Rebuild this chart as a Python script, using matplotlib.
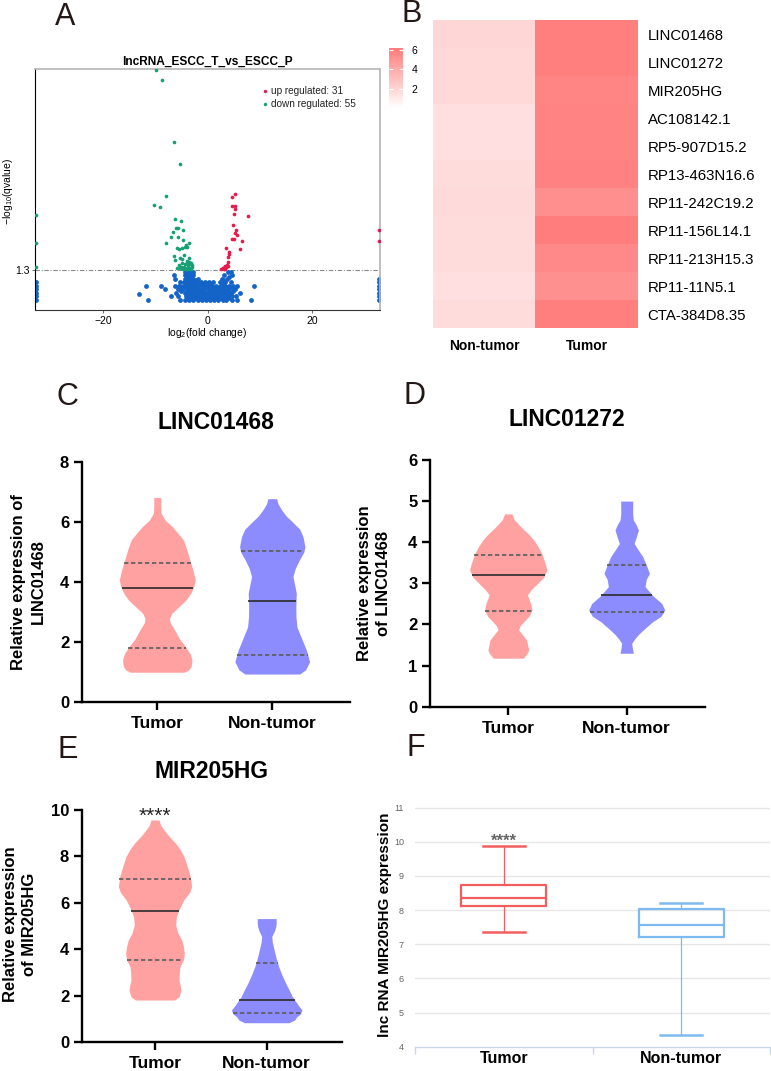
import numpy as np
import matplotlib
matplotlib.use('Agg')
import matplotlib.pyplot as plt
from matplotlib.colors import LinearSegmentedColormap, Normalize
from matplotlib.cm import ScalarMappable

plt.rcParams['font.family'] = ['Liberation Sans', 'DejaVu Sans']
plt.rcParams['mathtext.fontset'] = 'custom'
plt.rcParams['mathtext.rm'] = 'Liberation Sans'
plt.rcParams['mathtext.it'] = 'Liberation Sans:italic'

# ---------------- DATA ----------------
# Panel A: volcano plot
volcano_title = "lncRNA_ESCC_T_vs_ESCC_P"
up_x = [5.33, 4.63, 4.63, 5.33, 5.27, 5.0, 7.75, 4.83, 5.52, 5.27, 5.71, 4.63, 5.0, 6.53, 3.62, 6.19,
        4.06, 4.0, 3.87, 3.3, 3.56, 3.05, 2.6, 3.87, 32.9, 32.9, 3.4, 2.9, 3.7, 4.2, 3.2]
up_y = [4.58, 4.48, 4.09, 4.07, 3.93, 3.74, 3.64, 3.25, 3.02, 2.92, 2.82, 2.64, 2.63, 2.56, 2.25, 2.22,
        1.99, 1.85, 1.66, 1.47, 1.42, 1.40, 1.36, 1.47, 3.03, 2.57, 1.34, 1.38, 1.52, 2.10, 1.33]
down_x = [-9.9, -8.7, -6.4, -5.2, -7.9, -10.3, -9.0, -6.2, -5.1, -5.6, -6.0, -4.6, -6.6, -6.9, -7.9, -3.5,
          -4.1, -4.4, -4.8, -4.0, -5.8, -5.5, -6.4, -5.3, -4.8, -6.2, -4.0, -3.6, -3.3, -3.9, -3.5, -3.2,
          -5.5, -5.0, -4.5, -5.3, -3.8, -3.4, -4.2, -32.9, -32.9, -32.9,
          -3.0, -3.7, -4.6, -5.8, -4.3, -3.1, -3.6, -4.5, -4.7, -5.7, -3.9, -2.9, -4.9]
down_y = [9.95, 9.53, 6.86, 5.88, 4.52, 4.13, 4.02, 3.51, 3.41, 3.12, 3.10, 3.03, 2.95, 2.72, 2.48, 2.48,
          2.38, 2.31, 2.24, 2.28, 2.25, 2.20, 1.91, 1.83, 1.76, 1.73, 1.70, 1.65, 1.62, 1.58, 1.56, 1.60,
          1.52, 1.43, 1.44, 1.40, 1.45, 1.40, 1.36, 3.68, 2.47, 1.44,
          1.50, 1.33, 1.34, 1.38, 1.55, 1.35, 1.82, 1.95, 2.60, 2.75, 1.40, 1.42, 1.60]
# non-significant lncRNAs: (y level, list of x)
ns_rows = [
    (0.02, [-3.5, -2.7, -1.9, -1.1, -0.3, 0.5, 1.3, 2.1, 2.9, 3.6, -5.2, -4.4, 4.6, 5.6, -11.3, 8.4, -32.9, 32.9]),
    (0.10, [-3.9, -3.1, -2.3, -1.5, -0.7, 0.1, 0.9, 1.7, 2.5, 3.3, 4.1]),
    (0.17, [-4.2, -3.4, -2.6, -1.8, -1.0, -0.2, 0.6, 1.4, 2.2, 3.0, 3.8, 4.6, -5.7, 5.5, -7.0, -32.9, 32.9]),
    (0.25, [-3.8, -3.0, -2.2, -1.4, -0.6, 0.2, 1.0, 1.8, 2.6, 3.4, 4.2, -13.2]),
    (0.32, [-4.4, -3.6, -2.8, -2.0, -1.2, -0.4, 0.4, 1.2, 2.0, 2.8, 3.6, 4.4, -6.0, 6.3, -32.9, 32.9]),
    (0.40, [-4.0, -3.2, -2.4, -1.6, -0.8, 0.0, 0.8, 1.6, 2.4, 3.2, 4.0, -5.0, 4.9]),
    (0.47, [-4.6, -3.8, -3.0, -2.2, -1.4, -0.6, 0.2, 1.0, 1.8, 2.6, 3.4, 4.2, -8.1, -5.6, 5.2, -32.9, 32.9]),
    (0.55, [-4.2, -3.4, -2.6, -1.8, -1.0, -0.2, 0.6, 1.4, 2.2, 3.0, 3.8, -5.2, 4.6]),
    (0.62, [-6.3, -5.5, -4.7, -3.9, -3.1, -2.3, -1.5, -0.7, 0.1, 0.9, 1.7, 2.5, 3.3, 4.1, 4.9, 5.7,
            -8.9, -11.8, 8.8, -32.9, 32.9]),
    (0.70, [-4.1, -3.3, -2.5, -1.7, -0.9, -0.1, 0.7, 2.8]),
    (0.77, [-4.5, -3.7, -2.9, -2.1, -1.3, -0.5, 0.3, 1.1, 2.4, 3.3, 4.4, -5.3, -32.9, 32.9]),
    (0.85, [-4.0, -3.2, -2.4, 3.0]),
    (0.92, [-4.3, -3.5, -2.7, -1.9, 2.8, 3.8, -6.2, 32.9]),
    (1.00, [-3.9, -3.1, 4.1]),
    (1.07, [-4.4, -3.6, -2.8, 3.2, 4.7, -6.5]),
    (1.15, [-4.0, -3.2]),
    (1.22, [-4.3, -3.5, -2.7, 3.9, 4.5]),
]
q_threshold = 1.3

# Panel B: heatmap
heat_genes = ["LINC01468", "LINC01272", "MIR205HG", "AC108142.1", "RP5-907D15.2", "RP13-463N16.6",
              "RP11-242C19.2", "RP11-156L14.1", "RP11-213H15.3", "RP11-11N5.1", "CTA-384D8.35"]
heat_cols = ["Non-tumor", "Tumor"]
heat_nontumor = [1.9, 1.8, 1.8, 1.5, 1.5, 1.6, 1.7, 1.6, 1.6, 1.5, 1.6]
heat_tumor = [6.0, 6.0, 5.7, 5.8, 5.8, 5.9, 5.3, 6.1, 5.5, 5.2, 6.0]

groups = ["Tumor", "Non-tumor"]

# Panel C: LINC01468 violin outlines (value, half width) and quartiles
c_t_y = [1.00, 1.08, 1.20, 1.41, 1.62, 1.85, 2.10, 2.41, 2.65, 2.79, 2.95, 3.15, 3.40, 3.63, 3.85, 4.07,
         4.40, 4.84, 5.10, 5.40, 5.62, 5.84, 6.05, 6.29, 6.55, 6.81]
c_t_w = [0.235, 0.275, 0.295, 0.302, 0.285, 0.245, 0.195, 0.150, 0.112, 0.107, 0.125, 0.180, 0.250, 0.292,
         0.318, 0.330, 0.310, 0.275, 0.255, 0.226, 0.180, 0.130, 0.070, 0.033, 0.030, 0.030]
c_n_y = [0.94, 1.08, 1.35, 1.74, 2.18, 2.50, 2.85, 3.20, 3.63, 3.90, 4.18, 4.45, 4.73, 5.00, 5.18, 5.51,
         5.75, 5.95, 6.20, 6.40, 6.60, 6.77]
c_n_w = [0.238, 0.290, 0.325, 0.296, 0.249, 0.215, 0.206, 0.205, 0.209, 0.195, 0.180, 0.200, 0.235, 0.275,
         0.284, 0.267, 0.240, 0.188, 0.120, 0.081, 0.050, 0.038]
c_quart = {"Tumor": (1.80, 3.79, 4.62), "Non-tumor": (1.56, 3.38, 5.02)}

# Panel D: LINC01272
d_t_y = [1.18, 1.30, 1.38, 1.62, 1.75, 1.87, 1.97, 2.07, 2.20, 2.35, 2.50, 2.72, 2.85, 3.00, 3.15, 3.33,
         3.50, 3.73, 3.90, 4.06, 4.20, 4.38, 4.55, 4.69]
d_t_w = [0.127, 0.160, 0.172, 0.155, 0.120, 0.087, 0.100, 0.132, 0.175, 0.200, 0.190, 0.161, 0.195, 0.248,
         0.300, 0.327, 0.310, 0.282, 0.250, 0.214, 0.170, 0.104, 0.050, 0.031]
d_n_y = [1.30, 1.42, 1.54, 1.66, 1.78, 1.92, 2.07, 2.20, 2.35, 2.51, 2.70, 2.92, 3.10, 3.24, 3.45, 3.65,
         3.80, 3.97, 4.12, 4.30, 4.45, 4.54, 4.70, 5.00]
d_n_w = [0.056, 0.048, 0.042, 0.070, 0.107, 0.160, 0.220, 0.290, 0.321, 0.296, 0.220, 0.155, 0.165, 0.192,
         0.165, 0.135, 0.100, 0.062, 0.080, 0.099, 0.075, 0.056, 0.050, 0.051]
d_quart = {"Tumor": (2.33, 3.20, 3.69), "Non-tumor": (2.30, 2.71, 3.45)}

# Panel E: MIR205HG
e_t_y = [1.81, 1.95, 2.24, 2.45, 2.67, 3.00, 3.25, 3.55, 3.82, 4.10, 4.40, 4.70, 5.04, 5.40, 5.75, 6.12,
         6.45, 6.70, 7.13, 7.55, 7.99, 8.30, 8.56, 8.90, 9.14, 9.35, 9.57]
e_t_w = [0.176, 0.215, 0.233, 0.225, 0.215, 0.218, 0.224, 0.255, 0.263, 0.255, 0.239, 0.205, 0.185, 0.191,
         0.220, 0.257, 0.310, 0.328, 0.316, 0.290, 0.260, 0.225, 0.185, 0.120, 0.081, 0.050, 0.036]
e_n_y = [0.83, 0.95, 1.09, 1.20, 1.38, 1.60, 1.95, 2.25, 2.53, 2.90, 3.25, 3.60, 3.97, 4.30, 4.55, 4.80,
         4.97, 5.15, 5.32]
e_n_w = [0.200, 0.250, 0.269, 0.300, 0.316, 0.280, 0.230, 0.200, 0.170, 0.135, 0.107, 0.085, 0.066, 0.050,
         0.045, 0.070, 0.081, 0.085, 0.084]
e_quart = {"Tumor": (3.53, 5.65, 7.04), "Non-tumor": (1.25, 1.80, 3.41)}

# Panel F: boxplot statistics
f_stats = {
    "Tumor": dict(whislo=7.37, q1=8.11, med=8.37, q3=8.74, whishi=9.88),
    "Non-tumor": dict(whislo=4.35, q1=7.21, med=7.57, q3=8.03, whishi=8.20),
}

# ---------------- FIGURE ----------------
W, H = 771, 1071
fig = plt.figure(figsize=(W / 100, H / 100), dpi=100)


def pax(x0, y0, x1, y1):
    return fig.add_axes([x0 / W, 1 - y1 / H, (x1 - x0) / W, (y1 - y0) / H])


def ftext(x, y, s, **kw):
    kw.setdefault('ha', 'center')
    kw.setdefault('va', 'center')
    return fig.text(x / W, 1 - y / H, s, **kw)


letter_kw = dict(fontsize=22, color='#231815')
ftext(65, 17, 'A', **letter_kw)
ftext(412, 14, 'B', **letter_kw)
ftext(67.5, 397, 'C', **letter_kw)
ftext(415, 396, 'D', **letter_kw)
ftext(68, 750, 'E', **letter_kw)
ftext(415.5, 748, 'F', **letter_kw)

# ---- Panel A ----
RED, GREEN, BLUE = '#E8194B', '#17A073', '#1464C8'
axA = pax(35, 69, 380, 310)
axA.set_xlim(-33, 33)
axA.set_ylim(-0.43, 10.0)
ns_x = [x for y, xs in ns_rows for x in xs]
ns_y = [y for y, xs in ns_rows for x in xs]
axA.scatter(ns_x, ns_y, s=12, color=BLUE, lw=0, zorder=2)
axA.scatter(down_x, down_y, s=7, color=GREEN, lw=0, zorder=3)
axA.scatter(up_x, up_y, s=7, color=RED, lw=0, zorder=3)
axA.axhline(q_threshold, color='#8a8a8a', lw=0.8, ls=(0, (4, 1.5, 1, 1.5)), zorder=1)
axA.set_xticks([-20, 0, 20])
axA.set_xticklabels(['\u221220', '0', '20'])
axA.set_yticks([q_threshold])
axA.set_yticklabels(['1.3'])
axA.tick_params(labelsize=7.5, length=2.5, width=0.6, pad=1.5, color='#555555')
for s in ['top', 'right']:
    axA.spines[s].set_color('#b5b5b5')
    axA.spines[s].set_linewidth(1.2)
axA.spines['left'].set_linewidth(0.8)
axA.spines['bottom'].set_linewidth(0.8)
axA.spines['bottom'].set_color('#333333')
ftext(207.3, 61.5, volcano_title, fontsize=8.6, fontweight='bold')
ftext(207, 333, 'log$_2$(fold change)', fontsize=7.5)
ftext(8.5, 191, '\u2212log$_{10}$(qvalue)', fontsize=7.5, rotation=90)
axA.scatter([0.667], [0.907], s=6, color=RED, lw=0, transform=axA.transAxes, clip_on=False)
axA.scatter([0.667], [0.855], s=6, color=GREEN, lw=0, transform=axA.transAxes, clip_on=False)
axA.text(0.685, 0.907, f'up regulated: {len(up_x)}', transform=axA.transAxes, fontsize=7.2,
         va='center', ha='left', color='#222222')
axA.text(0.685, 0.855, f'down regulated: {len(down_x)}', transform=axA.transAxes, fontsize=7.2,
         va='center', ha='left', color='#222222')

# ---- Panel B ----
cmap = LinearSegmentedColormap.from_list('w2r', ['#FFFFFF', '#FF7B7B'])
norm = Normalize(vmin=0, vmax=6.2)
axB = pax(433, 20, 638, 328)
heat = np.array([heat_nontumor, heat_tumor]).T
axB.imshow(heat, cmap=cmap, norm=norm, aspect='auto', interpolation='nearest')
axB.set_xticks([0, 1])
axB.set_xticklabels(heat_cols, fontweight='bold', fontsize=10)
axB.yaxis.tick_right()
axB.set_yticks(range(len(heat_genes)))
axB.set_yticklabels(heat_genes, fontsize=10.8)
axB.tick_params(axis='x', length=0, pad=8)
axB.tick_params(axis='y', length=0, pad=7)
for s in axB.spines.values():
    s.set_visible(False)
cax = pax(389, 48, 403, 108)
cb = fig.colorbar(ScalarMappable(norm=norm, cmap=cmap), cax=cax)
cb.outline.set_visible(False)
cb.set_ticks([2, 4, 6])
cax.tick_params(labelsize=7.5, direction='in', color='white', length=3, width=0.8, pad=6,
                left=True, right=True)

# ---- Violin panels ----
PINK, PURPLE = '#FFA1A1', '#8C8CFF'


def draw_violin(ax, pos, ys, ws, color, quart):
    ys = np.asarray(ys)
    ws = np.asarray(ws)
    ax.fill_betweenx(ys, pos - ws, pos + ws, color=color, lw=0, zorder=2)
    q1, med, q3 = quart
    for q, ls, col in [(q1, (0, (2.6, 1.6)), '#5c5c5c'), (q3, (0, (2.6, 1.6)), '#5c5c5c'),
                       (med, '-', '#2b2b2b')]:
        w = np.interp(q, ys, ws)
        ax.plot([pos - w, pos + w], [q, q], color=col, lw=1.2, ls=ls, zorder=3,
                solid_capstyle='butt')


def gp_style(ax, xlim, ylim, yticks):
    ax.set_xlim(*xlim)
    ax.set_ylim(*ylim)
    for s in ['top', 'right']:
        ax.spines[s].set_visible(False)
    for s in ['left', 'bottom']:
        ax.spines[s].set_linewidth(1.7)
    ax.set_yticks(yticks)
    ax.set_xticks([1, 2])
    ax.set_xticklabels(groups)
    ax.tick_params(axis='y', width=1.7, length=6, labelsize=12, pad=3)
    ax.tick_params(axis='x', width=1.7, length=6, labelsize=12.5, pad=4)
    for lab in ax.get_xticklabels() + ax.get_yticklabels():
        lab.set_fontweight('bold')


# C
axC = pax(81.7, 461.7, 350, 702.3)
draw_violin(axC, 1, c_t_y, c_t_w, PINK, c_quart["Tumor"])
draw_violin(axC, 2, c_n_y, c_n_w, PURPLE, c_quart["Non-tumor"])
gp_style(axC, (0.343, 2.676), (0, 8), [0, 2, 4, 6, 8])
ftext(215.5, 423, 'LINC01468', fontsize=16.5, fontweight='bold')
ftext(28.5, 582, 'Relative expression of\nLINC01468', fontsize=12, fontweight='bold',
      rotation=90, linespacing=1.35, multialignment='center')

# D
axD = pax(430, 460, 705, 706.7)
draw_violin(axD, 1, d_t_y, d_t_w, PINK, d_quart["Tumor"])
draw_violin(axD, 2, d_n_y, d_n_w, PURPLE, d_quart["Non-tumor"])
gp_style(axD, (0.339, 2.661), (0, 6), [0, 1, 2, 3, 4, 5, 6])
ftext(567, 420, 'LINC01272', fontsize=16.5, fontweight='bold')
ftext(374, 583, 'Relative expression\nof LINC01468', fontsize=12, fontweight='bold',
      rotation=90, linespacing=1.35, multialignment='center')

# E
axE = pax(81.7, 810, 341.7, 1042)
draw_violin(axE, 1, e_t_y, e_t_w, PINK, e_quart["Tumor"])
draw_violin(axE, 2, e_n_y, e_n_w, PURPLE, e_quart["Non-tumor"])
gp_style(axE, (0.344, 2.671), (0, 10), [0, 2, 4, 6, 8, 10])
axE.text(1, 9.72, '****', ha='center', va='center', fontsize=15, color='#222222')
ftext(211, 772, 'MIR205HG', fontsize=16.5, fontweight='bold')
ftext(20, 924, 'Relative expression\nof MIR205HG', fontsize=12, fontweight='bold',
      rotation=90, linespacing=1.35, multialignment='center')

# ---- Panel F ----
axF = pax(415, 807.2, 770, 1046.7)
axF.set_xlim(-0.5, 1.5)
axF.set_ylim(4, 11.015)
for yv in range(5, 12):
    axF.axhline(yv, color='#e6e6e6', lw=1, zorder=0)
fcolors = {"Tumor": '#F25E5E', "Non-tumor": '#7EBAEF'}
for i, g in enumerate(groups):
    st = dict(f_stats[g])
    st['label'] = g
    c = fcolors[g]
    axF.bxp([st], positions=[i], widths=0.48, capwidths=0.236, showfliers=False,
            boxprops=dict(color=c, lw=1.6), medianprops=dict(color=c, lw=1.6),
            whiskerprops=dict(color=c, lw=0.9), capprops=dict(color=c, lw=1.8),
            manage_ticks=False)
axF.text(0, 10.02, '****', ha='center', va='center', fontsize=12, fontweight='bold', color='#666666')
for s in ['top', 'right', 'left']:
    axF.spines[s].set_visible(False)
axF.spines['bottom'].set_color('#ccd6eb')
axF.spines['bottom'].set_linewidth(1)
axF.set_yticks(range(4, 12))
axF.tick_params(axis='y', length=0, labelsize=6.5, labelcolor='#666666', pad=8)
axF.set_xticks([-0.5, 0.5, 1.5])
axF.set_xticklabels([])
axF.tick_params(axis='x', which='major', length=5, color='#ccd6eb', width=1)
axF.set_xticks([0, 1], minor=True)
axF.set_xticklabels(groups, minor=True, fontsize=11.5, fontweight='bold')
axF.tick_params(axis='x', which='minor', length=0, pad=3)
ftext(385, 925, 'lnc RNA MIR205HG expression', fontsize=11, fontweight='bold', rotation=90)

fig.savefig('out.png', dpi=100)
